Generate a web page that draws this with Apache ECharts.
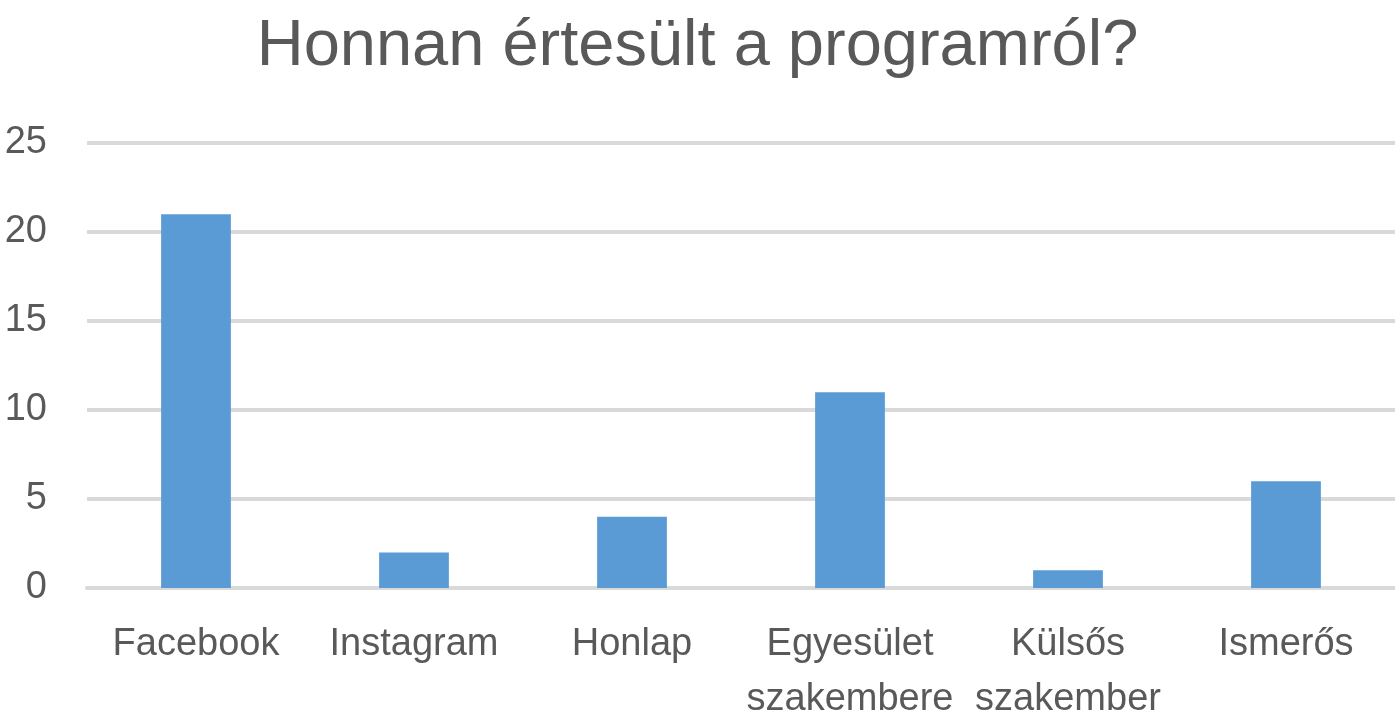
<!DOCTYPE html>
<html>
<head>
<meta charset="utf-8">
<script src="https://cdn.jsdelivr.net/npm/echarts@6/dist/echarts.min.js"></script>
<style>
  html, body { margin: 0; padding: 0; background: #fff; }
  #chart { width: 1395px; height: 716px; }
</style>
</head>
<body>
<div id="chart"></div>
<script>
const categories = ['Facebook', 'Instagram', 'Honlap', 'Egyesület\nszakembere', 'Külsős\nszakember', 'Ismerős']
const values = [21, 2, 4, 11, 1, 6]
const yTicks = { min: 0, max: 25, interval: 5 }

const textColor = '#595959'
const font = 'Liberation Sans'

const chart = echarts.init(document.getElementById('chart'))
chart.setOption({
    animation: false,
    title: {
        text: 'Honnan értesült a programról?',
        left: 'center',
        top: 10,
        textStyle: { color: textColor, fontFamily: font, fontSize: 65, fontWeight: 'normal' }
    },
    grid: { left: 87, right: 0, top: 143, bottom: 128, outerBoundsMode: 'none', containLabel: false },
    xAxis: {
        type: 'category',
        data: categories,
        axisTick: { show: false },
        axisLine: { lineStyle: { color: '#d9d9d9', width: 4 } },
        axisLabel: {
            interval: 0,
            margin: 29,
            color: textColor,
            fontFamily: font,
            fontSize: 38,
            lineHeight: 55
        }
    },
    yAxis: {
        type: 'value',
        min: yTicks.min,
        max: yTicks.max,
        interval: yTicks.interval,
        axisLine: { show: false },
        axisTick: { show: false },
        splitLine: { lineStyle: { color: '#d9d9d9', width: 4 } },
        axisLabel: {
            margin: 40,
            color: textColor,
            fontFamily: font,
            fontSize: 38
        }
    },
    series: [{
        type: 'bar',
        data: values,
        barWidth: '32%',
        itemStyle: { color: '#5b9bd5' }
    }]
})
</script>
</body>
</html>
